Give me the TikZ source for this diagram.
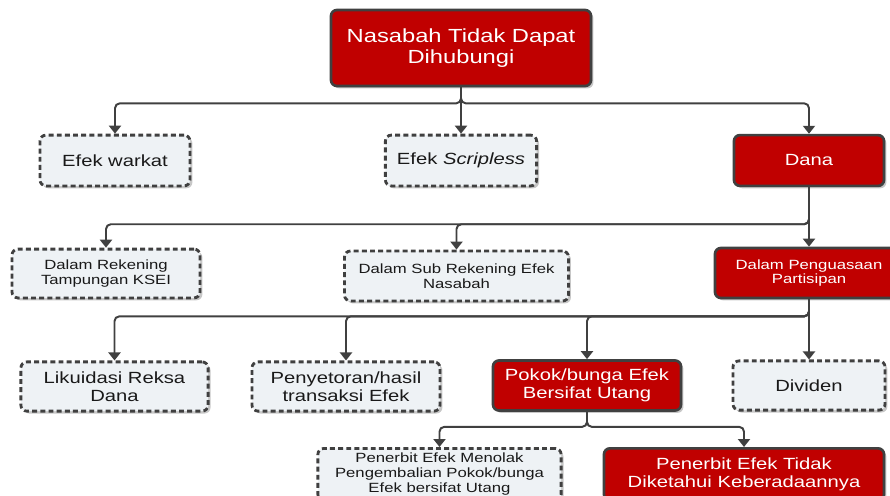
\documentclass[tikz,border=0pt]{standalone}
\usepackage{fontspec}
\setmainfont{Liberation Sans}[FakeStretch=1.25]
\usepackage{xcolor}
\usepackage{tikz}
\usetikzlibrary{arrows.meta, positioning, shadows}
\definecolor{boxred}{RGB}{192,0,0}
\definecolor{edgegray}{RGB}{64,64,64}
\definecolor{paleblue}{RGB}{238,242,245}

\begin{document}
\begin{tikzpicture}[
  x=0.025cm, y=-0.025cm,
  boxshadow/.style={drop shadow={shadow xshift=0.06cm, shadow yshift=-0.06cm, fill=black!22, opacity=1}},
  redbox/.style={boxshadow, draw=edgegray, line width=1.9pt, fill=boxred, rounded corners=0.15cm, text=white, align=center, inner sep=2pt},
  dashbox/.style={boxshadow, draw=edgegray, line width=2pt, dash pattern=on 3.5pt off 2.3pt, fill=paleblue, rounded corners=0.15cm, text=black!90, align=center, inner sep=2pt},
  bigtext/.style={font=\fontsize{13.5}{15}\selectfont},
  midtext/.style={font=\fontsize{11.5}{12.7}\selectfont},
  smalltext/.style={font=\fontsize{9.5}{10.6}\selectfont},
  link/.style={-{Triangle[width=0.3cm, length=0.2cm]}, draw=edgegray, line width=1.4pt, rounded corners=0.12cm}
]
\useasboundingbox (0,0) rectangle (890,495);

\node[redbox, bigtext, minimum width=6.5cm, minimum height=1.9cm] (top) at (461,48) {Nasabah Tidak Dapat\\Dihubungi};

\node[dashbox, midtext, minimum width=3.75cm, minimum height=1.27cm] (warkat) at (115,160.5) {Efek warkat};
\node[dashbox, midtext, minimum width=3.78cm, minimum height=1.27cm] (scripless) at (461,160.5) {Efek \textit{Scripless}};
\node[redbox, midtext, minimum width=3.75cm, minimum height=1.27cm] (dana) at (809,160.5) {Dana};

\node[dashbox, smalltext, minimum width=4.7cm, minimum height=1.22cm] (tampungan) at (106,273.5) {Dalam Rekening\\Tampungan KSEI};
\node[dashbox, smalltext, minimum width=5.6cm, minimum height=1.25cm] (subrek) at (456.5,276) {Dalam Sub Rekening Efek\\Nasabah};
\node[redbox, smalltext, minimum width=4.7cm, minimum height=1.25cm] (partisipan) at (809,273) {Dalam Penguasaan\\Partisipan};

\node[dashbox, midtext, minimum width=4.68cm, minimum height=1.23cm] (reksa) at (114.5,386.5) {Likuidasi Reksa\\Dana};
\node[dashbox, midtext, minimum width=4.7cm, minimum height=1.23cm] (setoran) at (346,386.5) {Penyetoran/hasil\\transaksi Efek};
\node[redbox, midtext, minimum width=4.7cm, minimum height=1.25cm] (pokok) at (587,385.5) {Pokok/bunga Efek\\Bersifat Utang};
\node[dashbox, midtext, minimum width=3.8cm, minimum height=1.23cm] (dividen) at (809,385.5) {Dividen};

\node[dashbox, smalltext, minimum width=6.08cm, minimum height=1.3cm, anchor=north] (menolak) at (439.5,447) {Penerbit Efek Menolak\\Pengembalian Pokok/bunga\\Efek bersifat Utang};
\node[redbox, midtext, minimum width=7cm, minimum height=1.3cm, anchor=north] (diketahui) at (744,447) {Penerbit Efek Tidak\\Diketahui Keberadaannya};

% level 1
\draw[link] (top.south) -- ++(0,16) -| (warkat.north);
\draw[link] (top.south) -- (scripless.north);
\draw[link] (top.south) -- ++(0,16) -| (dana.north);

% dana
\draw[link] (dana.south) -- ++(0,37) -| (tampungan.north);
\draw[link] (dana.south) -- ++(0,37) -| (subrek.north);
\draw[link] (dana.south) -- (partisipan.north);

% partisipan
\draw[link] (partisipan.south) -- ++(0,17) -| (reksa.north);
\draw[link] (partisipan.south) -- ++(0,17) -| (setoran.north);
\draw[link] (partisipan.south) -- ++(0,17) -| (pokok.north);
\draw[link] (partisipan.south) -- (dividen.north);

% pokok/bunga
\draw[link] (pokok.south) -- ++(0,15) -| (menolak.north);
\draw[link] (pokok.south) -- ++(0,15) -| (diketahui.north);
\end{tikzpicture}
\end{document}
